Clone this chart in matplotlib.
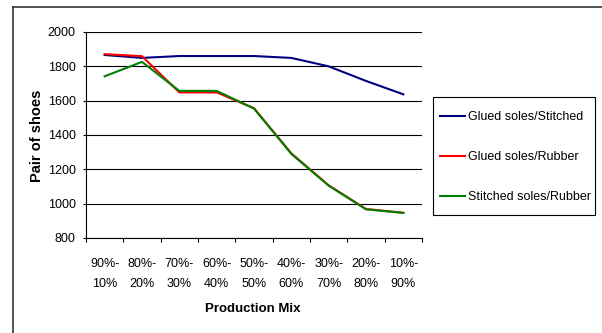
import matplotlib
matplotlib.use("Agg")
import matplotlib.pyplot as plt
from matplotlib.lines import Line2D
from matplotlib.patches import Rectangle
import numpy as np

plt.rcParams['font.family'] = ['Liberation Sans', 'DejaVu Sans']

categories = ["90%-\n10%", "80%-\n20%", "70%-\n30%", "60%-\n40%", "50%-\n50%",
              "40%-\n60%", "30%-\n70%", "20%-\n80%", "10%-\n90%"]
glued_stitched = [1866, 1849, 1860, 1860, 1860, 1849, 1800, 1715, 1637]
glued_rubber = [1871, 1859, 1648, 1648, 1556, 1293, 1107, 969, 947]
stitched_rubber = [1742, 1826, 1657, 1657, 1554, 1290, 1105, 967, 946]
series_names = ["Glued soles/Stitched", "Glued soles/Rubber", "Stitched soles/Rubber"]
series_colors = ["#000080", "#FF0000", "#008000"]

W, H = 602, 333
fig = plt.figure(figsize=(W / 100, H / 100), dpi=100)
ax = fig.add_axes([86 / W, 1 - 238 / H, (422 - 86) / W, (238 - 32) / H])

x = np.arange(len(categories))
for vals, name, col in zip([glued_stitched, glued_rubber, stitched_rubber], series_names, series_colors):
    ax.plot(x, vals, color=col, lw=1.5, label=name)

ax.set_xlim(-0.5, len(categories) - 0.5)
ax.set_ylim(800, 2000)
ax.set_yticks(np.arange(800, 2001, 200))
ax.yaxis.grid(True, color='black', lw=0.8)
ax.set_axisbelow(True)
ax.set_xticks(x)
ax.set_xticklabels(categories, fontsize=9, linespacing=1.85)
ax.set_xticks(np.arange(-0.5, len(categories) - 0.4, 1), minor=True)
ax.tick_params(axis='x', which='major', length=0, pad=14.5)
ax.tick_params(axis='x', which='minor', length=3, width=0.8, direction='out')
ax.tick_params(axis='y', length=2, width=0.8, labelsize=9, pad=5.5)
for s in ['top', 'right']:
    ax.spines[s].set_visible(False)
for s in ['left', 'bottom']:
    ax.spines[s].set_color('black')
    ax.spines[s].set_linewidth(0.8)

fig.text(37 / W, 1 - 135.5 / H, "Pair of shoes", rotation=90, ha='center', va='center',
         fontsize=10.5, fontweight='bold')
fig.text(253 / W, 1 - 309 / H, "Production Mix", ha='center', va='center',
         fontsize=9.5, fontweight='bold')

# legend frame drawn explicitly, legend entries placed inside
fig.add_artist(Rectangle((433 / W, 1 - 215 / H), (595 - 433) / W, (215 - 97) / H,
                         transform=fig.transFigure, fill=False, edgecolor='black', lw=0.8))
leg = fig.legend(loc='upper left', bbox_to_anchor=(440 / W, 1 - 111 / H),
                 bbox_transform=fig.transFigure, borderaxespad=0, borderpad=0,
                 fontsize=9, frameon=False,
                 labelspacing=2.25, handlelength=2.0, handletextpad=0.2)

# outer chart border (left and top edges visible)
fig.add_artist(Line2D([13 / W, 13 / W], [0, 1 - 6.5 / H], transform=fig.transFigure, color='#333333', lw=1.2))
fig.add_artist(Line2D([13 / W, 1], [1 - 6.5 / H, 1 - 6.5 / H], transform=fig.transFigure, color='#333333', lw=1.2))

fig.savefig("out.png", dpi=100)
